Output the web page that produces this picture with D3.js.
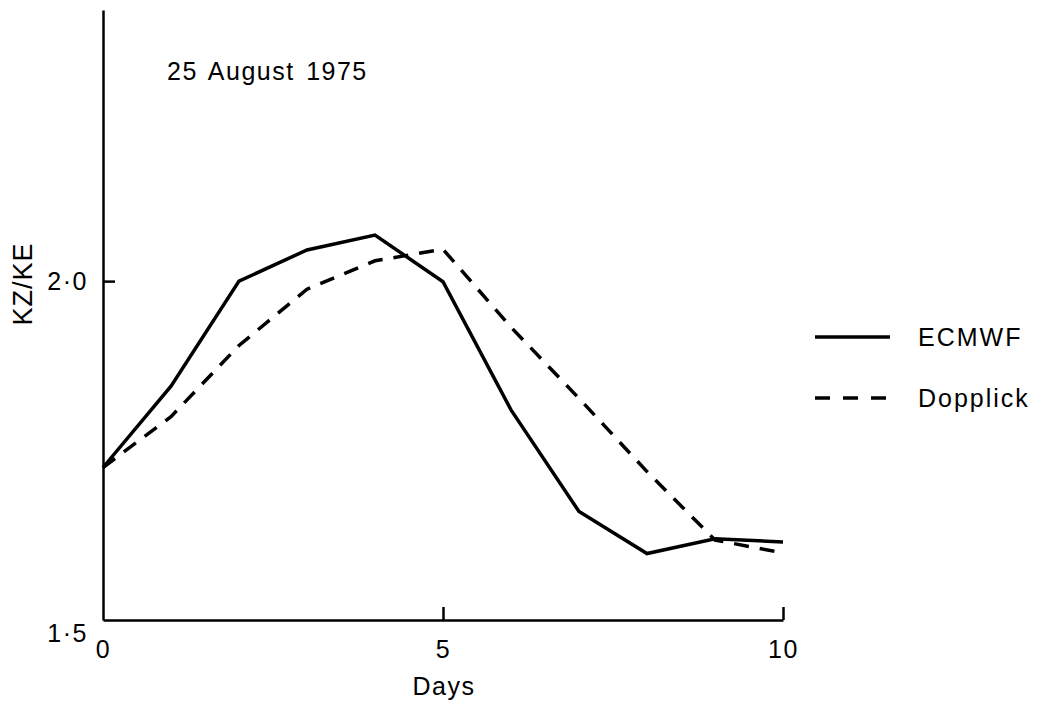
<!DOCTYPE html>
<html>
<head>
<meta charset="utf-8">
<script src="https://cdn.jsdelivr.net/npm/d3@7"></script>
<style>
  body { margin: 0; background: #fff; }
  text { font-family: "Liberation Sans", Arial, sans-serif; fill: #000; }
</style>
</head>
<body>
<script>
var w = 1041;
var h = 704;

// data
var days = [0, 1, 2, 3, 4, 5, 6, 7, 8, 9, 10];
var ecmwf = [1.725, 1.845, 2.0, 2.046, 2.068, 1.999, 1.81, 1.66, 1.598, 1.62, 1.615];
var dopplick = [1.725, 1.80, 1.905, 1.988, 2.03, 2.047, 1.932, 1.827, 1.719, 1.618, 1.599];
var xTicks = [0, 5, 10];
var yTicks = [1.5, 2.0];
var seriesNames = ["ECMWF", "Dopplick"];

var xScale = d3.scaleLinear().domain([0, 10]).range([103, 783]);
var yScale = d3.scaleLinear().domain([1.5, 2.4]).range([620, 10]);

var svg = d3.select("body")
    .append("svg")
    .attr("width", w)
    .attr("height", h);

/* axes: ticks point inwards, labels outside */
var xAxis = d3.axisBottom(xScale)
    .tickValues(xTicks)
    .tickSize(-13)
    .tickSizeOuter(0)
    .tickPadding(20)
    .tickFormat(d3.format("d"));

var yAxis = d3.axisLeft(yScale)
    .tickValues(yTicks)
    .tickSize(-12)
    .tickSizeOuter(0)
    .tickPadding(15)
    .tickFormat(function(d){ return d3.format(".1f")(d).replace(".", "\u00b7"); });

var gx = svg.append("g")
    .attr("transform", "translate(0," + yScale(1.5) + ")")
    .call(xAxis);

var gy = svg.append("g")
    .attr("transform", "translate(" + xScale(0) + ",0)")
    .call(yAxis);

[gx, gy].forEach(function(g){
    g.select(".domain").attr("stroke", "#000").attr("stroke-width", 2.5);
    g.selectAll(".tick line").attr("stroke", "#000").attr("stroke-width", 2.5);
    g.selectAll(".tick text")
        .attr("fill", "#000")
        .style("font-family", "'Liberation Sans', Arial, sans-serif")
        .style("font-size", "25px")
        .style("letter-spacing", "1.5px");
});
gx.selectAll(".tick").filter(function(d){ return d === 0; }).select("line").remove();
gy.selectAll(".tick").filter(function(d){ return d === 1.5; }).select("line").remove();
gy.selectAll(".tick").filter(function(d){ return d === 1.5; }).select("text").attr("dy", "0.85em");

/* lines */
var line = d3.line()
    .x(function(d, i){ return xScale(days[i]); })
    .y(function(d){ return yScale(d); });

svg.append("path")
    .datum(ecmwf)
    .attr("d", line)
    .attr("fill", "none")
    .attr("stroke", "#000")
    .attr("stroke-width", 3.5)
    .attr("stroke-linejoin", "miter");

svg.append("path")
    .datum(dopplick)
    .attr("d", line)
    .attr("fill", "none")
    .attr("stroke", "#000")
    .attr("stroke-width", 3.5)
    .attr("stroke-dasharray", "15,11");

/* text */
svg.append("text")
    .attr("x", 167)
    .attr("y", 80)
    .style("font-size", "25px")
    .style("letter-spacing", "1.5px")
    .style("word-spacing", "3px")
    .text("25 August 1975");

svg.append("text")
    .attr("x", 444)
    .attr("y", 695)
    .attr("text-anchor", "middle")
    .style("font-size", "25px")
    .style("letter-spacing", "1.5px")
    .text("Days");

svg.append("text")
    .attr("transform", "translate(32,284) rotate(-90)")
    .attr("text-anchor", "middle")
    .style("font-size", "27px")
    .style("letter-spacing", "1px")
    .text("KZ/KE");

/* legend */
var legend = svg.selectAll(".legend")
    .data(seriesNames)
    .enter()
    .append("g")
    .attr("transform", function(d, i){ return "translate(815," + (337 + i * 61) + ")"; });

legend.append("line")
    .attr("x1", 0)
    .attr("x2", 75)
    .attr("stroke", "#000")
    .attr("stroke-width", 3.5)
    .attr("stroke-dasharray", function(d, i){ return i === 1 ? "15,13" : null; });

legend.append("text")
    .attr("x", 103)
    .attr("y", 9)
    .style("font-size", "25px")
    .style("letter-spacing", "2px")
    .text(function(d){ return d; });
</script>
</body>
</html>
